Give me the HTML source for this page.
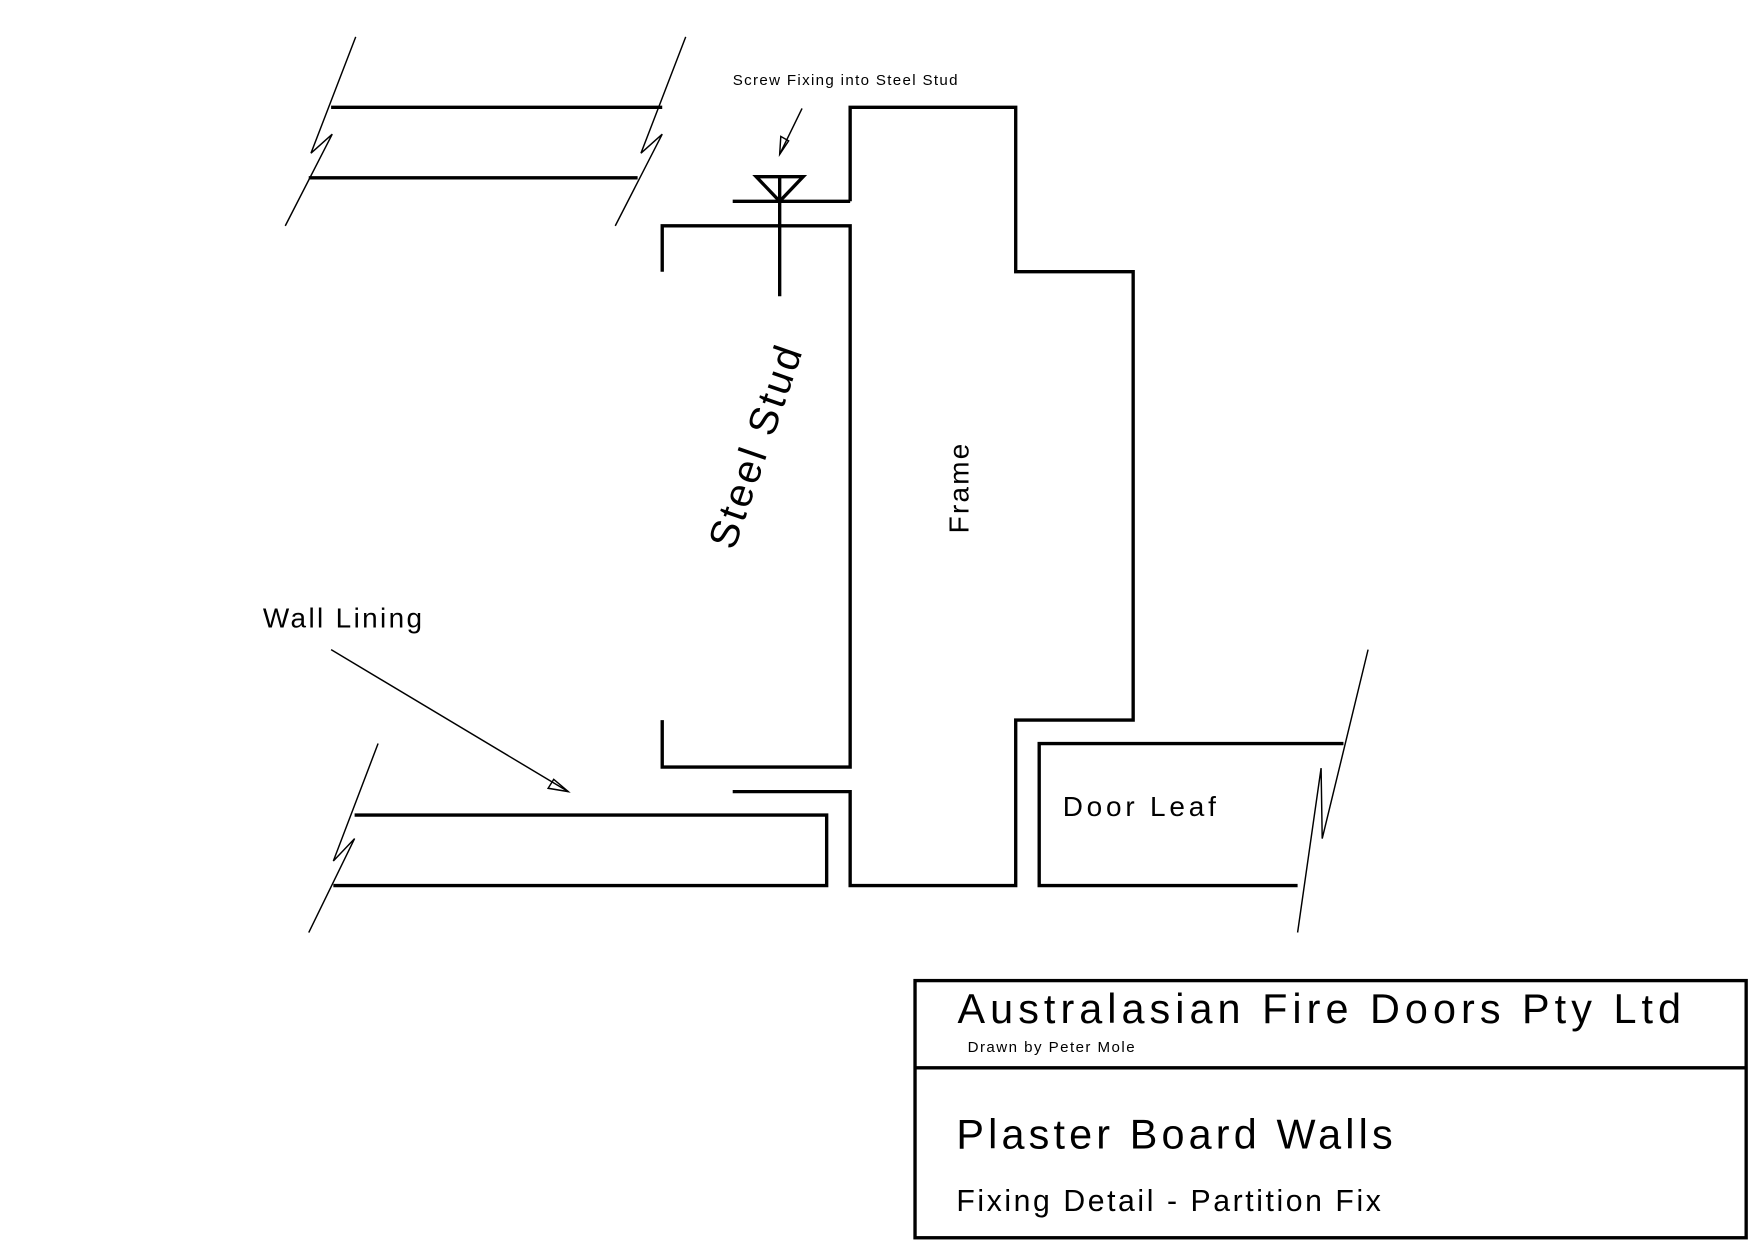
<!DOCTYPE html>
<html><head><meta charset="utf-8"><style>
html,body{margin:0;padding:0;background:#fff;width:1754px;height:1240px;overflow:hidden}
svg text{font-family:"Liberation Sans",sans-serif;fill:#000}
</style></head><body>
<svg width="1754" height="1240" viewBox="0 0 1568 1109" preserveAspectRatio="none" xmlns="http://www.w3.org/2000/svg">
<g fill="none" stroke="#000" stroke-width="1.3">
<polyline points="318,33 278,137 297,120 255,202"/>
<polyline points="613,33 573,137 592,120 550,202"/>
<polyline points="338,665 298,770 317,750 276,834"/>
<polyline points="1223,581 1182,750 1181,687 1160,834"/>
<line x1="296" y1="581" x2="508" y2="708"/>
<polygon points="508,708 490,705 495,697"/>
<line x1="717" y1="97" x2="697" y2="138"/>
<polygon points="697,138 698,122 705,126"/>
</g>
<g fill="none" stroke="#000" stroke-width="3">
<line x1="296" y1="96" x2="592" y2="96"/>
<line x1="276" y1="159" x2="570" y2="159"/>
<polyline points="760,180 760,96 908,96 908,243 1013,243 1013,644 908,644 908,792 760,792 760,708 655,708"/>
<line x1="655" y1="180" x2="760" y2="180"/>
<polygon points="676,158 718,158 697,180"/>
<line x1="697" y1="158" x2="697" y2="265"/>
<polyline points="592,243 592,202 760,202 760,686 592,686 592,644"/>
<polyline points="317,729 739,729 739,792 298,792"/>
<polyline points="1201,665 929,665 929,792 1160,792"/>
<rect x="818" y="877" width="743" height="230"/>
<line x1="818" y1="955" x2="1561" y2="955"/>
</g>
<text x="655" y="76" font-size="13.5" letter-spacing="1.2">Screw Fixing into Steel Stud</text>
<text x="235" y="561" font-size="25" letter-spacing="2.1">Wall Lining</text>
<text transform="translate(656,493) rotate(-71)" font-size="36" letter-spacing="2.5">Steel Stud</text>
<text transform="translate(866,477) rotate(-90)" font-size="25" letter-spacing="2">Frame</text>
<text x="950" y="730" font-size="25" letter-spacing="3.4">Door Leaf</text>
<text x="856" y="915" font-size="37" letter-spacing="4.5">Australasian Fire Doors Pty Ltd</text>
<text x="865" y="941" font-size="13.5" letter-spacing="1.3">Drawn by Peter Mole</text>
<text x="855" y="1027" font-size="37" letter-spacing="3.7">Plaster Board Walls</text>
<text x="855" y="1083" font-size="27" letter-spacing="2.3">Fixing Detail - Partition Fix</text>
</svg>
</body></html>
